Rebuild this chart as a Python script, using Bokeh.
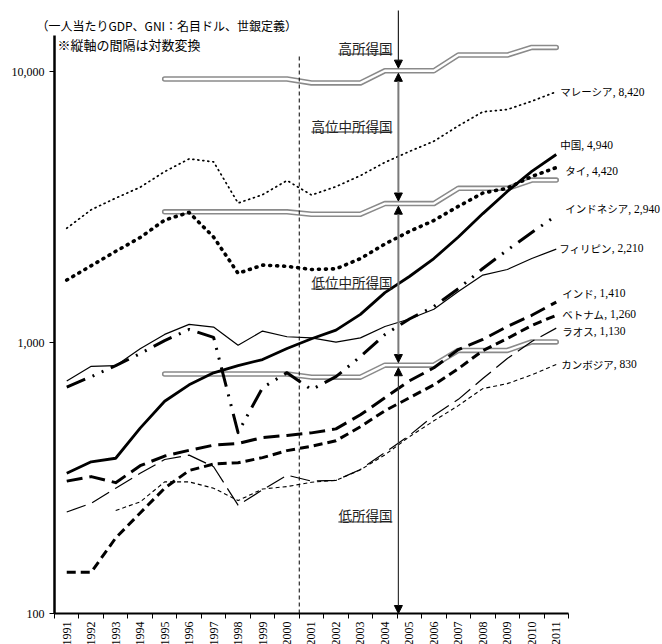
import math
from bokeh.plotting import figure
from bokeh.models import Range1d, FixedTicker, NumeralTickFormatter, Arrow, NormalHead
from bokeh.core.properties import value
from bokeh.embed import file_html
from bokeh.resources import INLINE

# ---------------- data ----------------
years = list(range(1991, 2012))
cambodia_years = list(range(1993, 2012))
band_years = list(range(1995, 2012))

malaysia = [2640, 3090, 3410, 3740, 4270, 4760, 4640, 3270, 3510, 3960, 3500,
            3760, 4130, 4620, 5070, 5530, 6300, 7100, 7240, 7770, 8420]
china = [329, 363, 374, 483, 607, 698, 773, 822, 865, 950, 1032,
         1111, 1270, 1528, 1752, 2041, 2450, 2990, 3610, 4280, 4940]
thailand = [1700, 1920, 2170, 2440, 2830, 3020, 2450, 1800, 1930, 1910, 1860,
            1870, 2040, 2310, 2570, 2820, 3180, 3560, 3710, 4100, 4420]
indonesia = [685, 748, 821, 910, 1016, 1117, 1045, 465, 681, 774, 670,
             748, 887, 1070, 1221, 1358, 1580, 1875, 2193, 2547, 2940]
philippines = [721, 817, 821, 948, 1071, 1166, 1140, 977, 1102, 1050, 1040,
               1003, 1040, 1146, 1221, 1327, 1541, 1773, 1859, 2042, 2210]
india = [308, 320, 304, 351, 381, 400, 418, 424, 446, 454, 464,
         480, 541, 625, 722, 807, 942, 1026, 1146, 1260, 1410]
vietnam = [142, 142, 190, 235, 290, 337, 356, 360, 376, 399, 414,
           434, 489, 560, 625, 698, 801, 933, 1035, 1156, 1260]
laos = [237, 255, 290, 329, 370, 384, 348, 251, 286, 324, 308,
        310, 340, 393, 454, 538, 617, 736, 873, 1009, 1130]
cambodia = [240, 258, 306, 306, 290, 261, 288, 294, 305, 310, 339,
            385, 449, 514, 585, 676, 705, 760, 830]

# income-group thresholds (1995-2011)
low_mid_th = [765, 765, 765, 765, 765, 765, 745, 745, 745, 825, 825, 825,
              935, 935, 935, 1005, 1005]
up_mid_th = [3035, 3035, 3035, 3035, 3035, 3035, 2975, 2975, 2975, 3255, 3255, 3255,
             3705, 3705, 3705, 3975, 3975]
high_th = [9385, 9385, 9385, 9385, 9385, 9385, 9075, 9075, 9075, 10065, 10065, 10065,
           11500, 11500, 11500, 12275, 12275]

names = ["マレーシア", "中国", "タイ", "インドネシア", "フィリピン",
         "インド", "ベトナム", "ラオス", "カンボジア"]
band_names = ["高所得国", "高位中所得国", "低位中所得国", "低所得国"]
note1 = "（一人当たりGDP、GNI：名目ドル、世銀定義）"
note2 = "※縦軸の間隔は対数変換"
y_ticks = [100, 1000, 10000]

# ---------------- figure geometry ----------------
W, H = 662, 644
PPC = 24.476            # pixels per year category
DEC = 271.0             # pixels per decade
AXIS_X_PX = 54          # spine distance from canvas left
AXIS_Y_PX = 613         # y=100 distance from canvas top
XS, XE = 1990.5, 2011.5
X0 = XS - AXIS_X_PX / PPC
X1 = X0 + W / PPC
Y0 = 10 ** (2 - (H - AXIS_Y_PX) / DEC)
Y1 = 10 ** (2 + AXIS_Y_PX / DEC)

p = figure(width=W, height=H, x_range=Range1d(X0, X1), y_range=Range1d(Y0, Y1),
           y_axis_type="log", output_backend="svg", toolbar_location=None, min_border=0)
p.outline_line_color = None
p.grid.visible = False
p.background_fill_color = "white"

PX_X = 1 / PPC


def shift(v, px):
    """move a value px screen pixels up (positive) on the log axis"""
    return v * 10 ** (px / DEC)


JP = value("Noto Sans CJK JP")
SERIF = value("Liberation Serif")

# threshold double lines
for th in (low_mid_th, up_mid_th, high_th):
    p.line(band_years, th, line_color="#8a8a8a", line_width=5.5, line_cap="round", line_join="round")
    p.line(band_years, th, line_color="white", line_width=2.4, line_cap="round", line_join="round")

# 2000/2001 dashed divider
p.segment(x0=[2000.5], y0=[100], x1=[2000.5], y1=[11400], line_color="black",
          line_width=1, line_dash="4 3")

# series
series = [
    (malaysia, years, dict(line_width=1.7, line_dash="1 4", line_cap="round")),
    (china, years, dict(line_width=2.8)),
    (thailand, years, dict(line_width=3.6, line_dash="1 6", line_cap="round")),
    (indonesia, years, dict(line_width=3.0, line_dash="20 8 2 8 2 8")),
    (philippines, years, dict(line_width=1.2)),
    (india, years, dict(line_width=3.0, line_dash="16 7")),
    (vietnam, years, dict(line_width=3.0, line_dash="9 5")),
    (laos, years, dict(line_width=1.2, line_dash="20 7")),
    (cambodia, cambodia_years, dict(line_width=1.1, line_dash="4 3")),
]
for vals, xs, st in series:
    p.line(xs, vals, line_color="black", line_join="round", **st)

# end labels (name in gothic, value in serif)
x_off = [4, 4, 9, 9, 3, 6, 6, 6, 5]
y_down = [0, -10, 3, -7, -1, -9, -1, 3, 0]
last_vals = [s[0][-1] for s in series]
NAME_PX = 10.5
p.text(x=[years[-1]] * len(names), y=last_vals, text=names, x_offset=x_off, y_offset=y_down,
       text_font=JP, text_font_size=f"{NAME_PX}px", text_baseline="middle", text_align="left",
       text_color="black")
p.text(x=[years[-1]] * len(names), y=last_vals, text=[f", {v:,}" for v in last_vals],
       x_offset=[o + NAME_PX * len(n) for o, n in zip(x_off, names)], y_offset=y_down,
       text_font=SERIF, text_font_size="11.5px", text_baseline="middle", text_align="left",
       text_color="black")

# arrows between income groups
AX = 2004.55
i04 = band_years.index(2004)
hi, um, lm = high_th[i04], up_mid_th[i04], low_mid_th[i04]
g = 2.6


def head():
    return NormalHead(size=8, fill_color="black", line_color="black", line_width=1)


p.add_layout(Arrow(x_start=AX, y_start=shift(100, AXIS_Y_PX - 10), x_end=AX, y_end=shift(hi, g),
                   start=None, end=head(), line_color="#222222", line_width=1.2))
p.add_layout(Arrow(x_start=AX, y_start=shift(hi, -g), x_end=AX, y_end=shift(um, g),
                   start=head(), end=head(), line_color="#7a7a7a", line_width=2))
p.add_layout(Arrow(x_start=AX, y_start=shift(um, -g), x_end=AX, y_end=shift(lm, g),
                   start=head(), end=head(), line_color="#7a7a7a", line_width=2))
p.add_layout(Arrow(x_start=AX, y_start=shift(lm, -g), x_end=AX, y_end=100,
                   start=head(), end=head(), line_color="#333333", line_width=1.2))

# income-group labels (underlined)
band_label_y = [12260, 6320, 1665, 230]
BAND_PX = 13.5
p.text(x=[AX] * 4, y=band_label_y, text=band_names, x_offset=-6, text_align="right",
       text_baseline="middle", text_font=JP, text_font_size=f"{BAND_PX}px", text_color="#222222")
p.segment(x0=[AX - (6 + BAND_PX * len(n)) * PX_X for n in band_names],
          y0=[shift(v, -6.5) for v in band_label_y],
          x1=[AX - 6 * PX_X] * 4, y1=[shift(v, -6.5) for v in band_label_y],
          line_color="#222222", line_width=1)

# notes at top-left
p.text(x=[XS - 18 * PX_X], y=[shift(100, 588)], text=[note1], text_font=JP,
       text_font_size="12px", text_baseline="middle", text_align="left", text_color="black")
p.text(x=[XS + 3 * PX_X], y=[shift(100, 569.5)], text=[note2], text_font=JP,
       text_font_size="13px", text_baseline="middle", text_align="left", text_color="black")

# axes, drawn at fixed data locations inside the frame
p.xaxis.fixed_location = 100
p.xaxis.ticker = FixedTicker(ticks=years, minor_ticks=[y - 0.5 for y in years] + [XE])
p.xaxis.bounds = (XS, XE)
p.xaxis.major_tick_out = 0
p.xaxis.major_tick_in = 0
p.xaxis.minor_tick_out = 5
p.xaxis.minor_tick_in = 0
p.xaxis.minor_tick_line_color = "black"
p.xaxis.axis_line_width = 2
p.xaxis.axis_line_color = "black"
p.xaxis.major_label_orientation = math.pi / 2
p.xaxis.major_label_text_font = "Liberation Serif"
p.xaxis.major_label_text_font_size = "12px"
p.xaxis.major_label_text_color = "black"
p.xaxis.major_label_standoff = 3

p.yaxis.fixed_location = XS
p.yaxis.ticker = FixedTicker(ticks=y_ticks, minor_ticks=[])
p.yaxis.formatter = NumeralTickFormatter(format="0,0")
p.yaxis.bounds = (100, 13600)
p.yaxis.major_tick_out = 5
p.yaxis.major_tick_in = 0
p.yaxis.major_tick_line_color = "black"
p.yaxis.minor_tick_line_color = None
p.yaxis.axis_line_width = 2.5
p.yaxis.axis_line_color = "black"
p.yaxis.major_label_text_font = "Liberation Serif"
p.yaxis.major_label_text_font_size = "12px"
p.yaxis.major_label_text_color = "black"
p.yaxis.major_label_standoff = 5

open("out.html", "w").write(file_html(p, INLINE))
